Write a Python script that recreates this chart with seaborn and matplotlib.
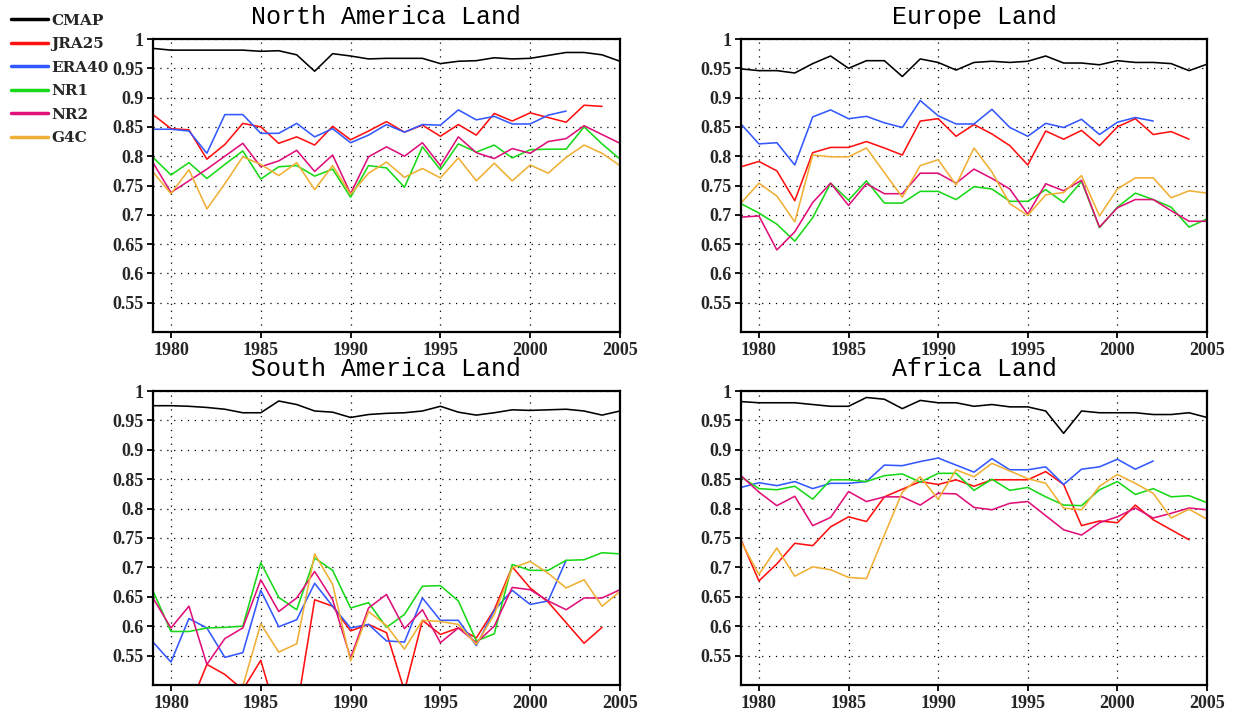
import numpy as np
import pandas as pd
import matplotlib
matplotlib.use("Agg")
import matplotlib.pyplot as plt
import seaborn as sns
from matplotlib.ticker import FixedLocator, FixedFormatter

nan = np.nan
years = list(range(1979, 2006))
datasets = ["CMAP", "JRA25", "ERA40", "NR1", "NR2", "G4C"]
colors = ["#000000", "#ff1010", "#3358ff", "#18d818", "#e0107a", "#f0b035"]
titles = ["North America Land", "Europe Land", "South America Land", "Africa Land"]
y_ticks = [0.55, 0.6, 0.65, 0.7, 0.75, 0.8, 0.85, 0.9, 0.95, 1.0]
y_tick_labels = ["0.55", "0.6", "0.65", "0.7", "0.75", "0.8", "0.85", "0.9", "0.95", "1"]
x_ticks = [1980, 1985, 1990, 1995, 2000, 2005]

# North America Land
na_cmap = [0.984, 0.981, 0.981, 0.981, 0.981, 0.981, 0.979, 0.980, 0.973, 0.945, 0.975, 0.971, 0.966, 0.967,
           0.967, 0.967, 0.958, 0.962, 0.963, 0.968, 0.966, 0.967, 0.972, 0.977, 0.977, 0.973, 0.962]
na_jra25 = [0.871, 0.847, 0.845, 0.795, 0.820, 0.856, 0.850, 0.822, 0.833, 0.819, 0.851, 0.828, 0.843, 0.859,
            0.841, 0.853, 0.834, 0.854, 0.836, 0.873, 0.860, 0.874, 0.866, 0.858, 0.887, 0.885, nan]
na_era40 = [0.846, 0.846, 0.843, 0.805, 0.871, 0.871, 0.839, 0.839, 0.856, 0.833, 0.847, 0.823, 0.836, 0.854,
            0.841, 0.854, 0.853, 0.879, 0.862, 0.868, 0.855, 0.855, 0.870, 0.877, nan, nan, nan]
na_nr1 = [0.798, 0.768, 0.789, 0.762, 0.786, 0.809, 0.761, 0.782, 0.784, 0.766, 0.778, 0.730, 0.784, 0.780,
          0.747, 0.816, 0.777, 0.821, 0.807, 0.819, 0.797, 0.811, 0.812, 0.812, 0.850, 0.821, 0.795]
na_nr2 = [0.789, 0.738, 0.758, 0.778, 0.800, 0.822, 0.782, 0.792, 0.810, 0.774, 0.802, 0.736, 0.799, 0.816,
          0.800, 0.823, 0.784, 0.833, 0.806, 0.796, 0.813, 0.805, 0.825, 0.830, 0.852, 0.837, 0.822]
na_g4c = [0.773, 0.736, 0.777, 0.710, 0.753, 0.799, 0.786, 0.767, 0.789, 0.743, 0.784, 0.735, 0.771, 0.790,
          0.764, 0.779, 0.763, 0.797, 0.758, 0.788, 0.758, 0.785, 0.771, 0.798, 0.819, 0.805, 0.784]

# Europe Land
eu_cmap = [0.949, 0.946, 0.946, 0.942, 0.958, 0.971, 0.950, 0.963, 0.963, 0.936, 0.966, 0.960, 0.947,
           0.960, 0.962, 0.960, 0.962, 0.971, 0.959, 0.959, 0.956, 0.963, 0.960, 0.960, 0.958, 0.946, 0.957]
eu_jra25 = [0.782, 0.791, 0.775, 0.724, 0.806, 0.815, 0.815, 0.825, 0.814, 0.802, 0.860, 0.864, 0.834,
            0.854, 0.838, 0.818, 0.785, 0.843, 0.829, 0.844, 0.818, 0.850, 0.864, 0.837, 0.842, 0.829, nan]
eu_era40 = [0.855, 0.821, 0.823, 0.785, 0.867, 0.879, 0.864, 0.868, 0.857, 0.849, 0.895, 0.869, 0.855,
            0.855, 0.880, 0.849, 0.834, 0.856, 0.849, 0.863, 0.837, 0.858, 0.866, 0.860, nan, nan, nan]
eu_nr1 = [0.719, 0.703, 0.684, 0.655, 0.695, 0.754, 0.725, 0.758, 0.720, 0.720, 0.740, 0.740, 0.726,
          0.748, 0.744, 0.723, 0.723, 0.743, 0.721, 0.757, 0.678, 0.713, 0.737, 0.726, 0.713, 0.679, 0.693]
eu_nr2 = [0.696, 0.698, 0.640, 0.671, 0.721, 0.754, 0.716, 0.753, 0.736, 0.736, 0.771, 0.771, 0.754,
          0.778, 0.762, 0.744, 0.701, 0.753, 0.741, 0.759, 0.679, 0.712, 0.726, 0.726, 0.707, 0.689, 0.689]
eu_g4c = [0.720, 0.754, 0.732, 0.688, 0.802, 0.799, 0.799, 0.814, 0.772, 0.730, 0.784, 0.794, 0.751,
          0.814, 0.773, 0.719, 0.699, 0.734, 0.738, 0.767, 0.698, 0.744, 0.763, 0.763, 0.729, 0.741, 0.737]

# South America Land
sa_cmap = [0.975, 0.975, 0.974, 0.972, 0.969, 0.963, 0.963, 0.983, 0.977, 0.966, 0.964, 0.955, 0.960, 0.962,
           0.963, 0.966, 0.974, 0.964, 0.959, 0.963, 0.968, 0.967, 0.968, 0.969, 0.966, 0.959, 0.966]
sa_jra25 = [0.450, 0.450, 0.460, 0.535, 0.518, 0.492, 0.542, 0.437, 0.457, 0.645, 0.634, 0.592, 0.603, 0.589,
            0.490, 0.610, 0.586, 0.597, 0.580, 0.628, 0.701, 0.665, 0.641, 0.606, 0.571, 0.598, nan]
sa_era40 = [0.573, 0.539, 0.613, 0.597, 0.547, 0.555, 0.661, 0.599, 0.611, 0.673, 0.634, 0.597, 0.603, 0.575,
            0.573, 0.648, 0.610, 0.610, 0.567, 0.627, 0.661, 0.637, 0.643, 0.712, nan, nan, nan]
sa_nr1 = [0.660, 0.591, 0.591, 0.597, 0.598, 0.600, 0.708, 0.649, 0.628, 0.716, 0.695, 0.631, 0.640, 0.598,
          0.620, 0.668, 0.669, 0.643, 0.575, 0.587, 0.705, 0.695, 0.695, 0.712, 0.713, 0.725, 0.723]
sa_nr2 = [0.648, 0.597, 0.634, 0.535, 0.579, 0.597, 0.679, 0.625, 0.648, 0.693, 0.645, 0.546, 0.631, 0.654,
          0.596, 0.628, 0.572, 0.597, 0.572, 0.600, 0.666, 0.662, 0.643, 0.628, 0.648, 0.648, 0.662]
sa_g4c = [nan, nan, nan, nan, nan, 0.498, 0.604, 0.556, 0.570, 0.723, 0.671, 0.541, 0.625, 0.601,
          0.561, 0.610, 0.608, 0.603, 0.569, 0.620, 0.699, 0.710, 0.690, 0.665, 0.679, 0.634, 0.659]

# Africa Land
af_cmap = [0.982, 0.980, 0.980, 0.980, 0.977, 0.974, 0.974, 0.989, 0.986, 0.970, 0.984, 0.980, 0.980,
           0.974, 0.977, 0.973, 0.973, 0.966, 0.928, 0.966, 0.963, 0.963, 0.963, 0.960, 0.960, 0.963, 0.955]
af_jra25 = [0.747, 0.677, 0.706, 0.741, 0.737, 0.769, 0.786, 0.778, 0.820, 0.833, 0.846, 0.841, 0.849,
            0.838, 0.849, 0.849, 0.849, 0.863, 0.841, 0.771, 0.779, 0.776, 0.806, 0.781, 0.764, 0.747, nan]
af_era40 = [0.836, 0.844, 0.839, 0.846, 0.834, 0.843, 0.843, 0.846, 0.874, 0.873, 0.880, 0.886, 0.874,
            0.862, 0.885, 0.866, 0.866, 0.871, 0.841, 0.867, 0.871, 0.884, 0.867, 0.881, nan, nan, nan]
af_nr1 = [0.854, 0.834, 0.832, 0.838, 0.816, 0.849, 0.849, 0.846, 0.856, 0.859, 0.845, 0.860, 0.860,
          0.831, 0.850, 0.831, 0.836, 0.820, 0.806, 0.805, 0.832, 0.846, 0.824, 0.834, 0.820, 0.822, 0.810]
af_nr2 = [0.856, 0.828, 0.805, 0.821, 0.771, 0.785, 0.829, 0.812, 0.820, 0.820, 0.806, 0.826, 0.825,
          0.802, 0.798, 0.809, 0.812, 0.788, 0.764, 0.755, 0.776, 0.786, 0.801, 0.784, 0.792, 0.801, 0.798]
af_g4c = [0.744, 0.688, 0.733, 0.685, 0.701, 0.696, 0.683, 0.681, 0.755, 0.828, 0.854, 0.816, 0.866,
          0.854, 0.877, 0.864, 0.851, 0.843, 0.801, 0.798, 0.838, 0.858, 0.843, 0.826, 0.784, 0.799, 0.782]

regions = [
    [na_cmap, na_jra25, na_era40, na_nr1, na_nr2, na_g4c],
    [eu_cmap, eu_jra25, eu_era40, eu_nr1, eu_nr2, eu_g4c],
    [sa_cmap, sa_jra25, sa_era40, sa_nr1, sa_nr2, sa_g4c],
    [af_cmap, af_jra25, af_era40, af_nr1, af_nr2, af_g4c],
]

sns.set_theme(style="white")
plt.rcParams["font.family"] = ["DejaVu Sans"]

W, H = 1236, 712
fig = plt.figure(figsize=(W / 100, H / 100), dpi=100)

# axes boxes in pixels: left, right, top, bottom
boxes = [(153, 620, 39, 332), (741, 1207, 39, 332), (153, 620, 391, 685), (741, 1207, 391, 685)]
palette = dict(zip(datasets, colors))

tick_font = dict(family="Liberation Serif", weight="bold", size=13)
axes = []
for i, (l, r, t, b) in enumerate(boxes):
    ax = fig.add_axes([l / W, 1 - b / H, (r - l) / W, (b - t) / H])
    axes.append(ax)
    rows = []
    for name, vals in zip(datasets, regions[i]):
        for yr, v in zip(years, vals):
            rows.append({"year": yr, "value": v, "dataset": name})
    df = pd.DataFrame(rows).dropna()
    sns.lineplot(data=df, x="year", y="value", hue="dataset", hue_order=datasets,
                 palette=palette, ax=ax, linewidth=1.15, legend=False, estimator=None)
    ax.set_xlim(1979, 2005)
    ax.set_ylim(0.5, 1.0)
    ax.xaxis.set_major_locator(FixedLocator(x_ticks))
    ax.yaxis.set_major_locator(FixedLocator(y_ticks))
    ax.yaxis.set_major_formatter(FixedFormatter(y_tick_labels))
    ax.set_xticklabels([str(x) for x in x_ticks], fontdict=tick_font)
    ax.set_yticklabels(y_tick_labels, fontdict=tick_font)
    ax.set_xlabel("")
    ax.set_ylabel("")
    ax.grid(True, color="black", linestyle=(0, (1, 4.5)), linewidth=0.9)
    ax.tick_params(axis="both", direction="out", length=4, width=1.3, color="black",
                   bottom=True, left=True, pad=3)
    for s in ax.spines.values():
        s.set_color("black")
        s.set_linewidth(1.6)
    ax.set_title(titles[i], family="Liberation Mono", size=18, pad=11, color="black")

handles = [plt.Line2D([], [], color=c, linewidth=2.5) for c in colors]
fig.legend(handles, datasets, loc="upper left", bbox_to_anchor=(-0.002, 1.0),
           frameon=False, handlelength=2.4, handletextpad=0.2, labelspacing=0.62,
           prop=dict(family="DejaVu Serif", weight="bold", size=11), borderaxespad=0.5)

fig.savefig("out.png", dpi=100)
